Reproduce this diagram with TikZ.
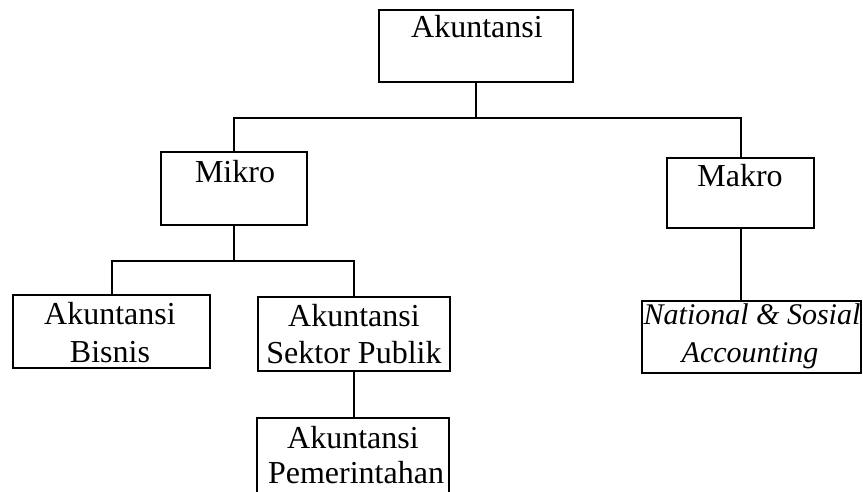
\documentclass[tikz,border=0pt]{standalone}
\usepackage{fontspec}
\setmainfont{Liberation Serif}
\begin{document}
\begin{tikzpicture}[x=1pt,y=-1pt,
  box/.style={draw, line width=2pt, rectangle, inner sep=0pt, outer sep=0pt},
  lbl/.style={anchor=base, inner sep=0pt, font=\fontsize{32}{38}\selectfont},
  ilbl/.style={anchor=base, inner sep=0pt, font=\fontsize{30}{36}\selectfont\itshape},
  conn/.style={line width=2pt}]
\useasboundingbox (0,0) rectangle (863,492);
\clip (0,0) rectangle (863,492);
% boxes
\node[box, minimum width=194pt, minimum height=72pt] (akt) at (476,46) {};
\node[box, minimum width=146pt, minimum height=73pt] (mikro) at (234,188.5) {};
\node[box, minimum width=147pt, minimum height=70pt] (makro) at (740.5,193) {};
\node[box, minimum width=197pt, minimum height=73pt] (bisnis) at (111.5,331.5) {};
\node[box, minimum width=192pt, minimum height=74pt] (sektor) at (354,334) {};
\node[box, minimum width=219pt, minimum height=72pt] (natl) at (751.5,337) {};
\node[box, minimum width=192pt, minimum height=82pt] (pem) at (353,459) {};
% texts
\node[lbl] (t-akt) at (477,38) {Akuntansi};
\node[lbl] (t-mikro) at (235,183) {Mikro};
\node[lbl] (t-makro) at (740,187) {Makro};
\node[lbl] (t-bis1) at (110,324) {Akuntansi};
\node[lbl] (t-bis2) at (110,362) {Bisnis};
\node[lbl] (t-sek1) at (354,326) {Akuntansi};
\node[lbl] (t-sek2) at (354,363) {Sektor Publik};
\node[ilbl] (t-nat1) at (752,324) {National \& Sosial};
\node[ilbl] (t-nat2) at (750,362) {Accounting};
\node[lbl] (t-pem1) at (353,448) {Akuntansi};
\node[lbl] (t-pem2) at (356,483) {Pemerintahan};
% connectors
\coordinate (j1) at (476,118);
\coordinate (j2) at (234,261);
\draw[conn] (akt.south) -- (j1);
\draw[conn] (mikro.north) |- (j1) -| (makro.north);
\draw[conn] (mikro.south) -- (j2);
\draw[conn] (bisnis.north) |- (j2) -| (sektor.north);
\draw[conn] (makro.south) -- (makro.south |- natl.north);
\draw[conn] (sektor.south) -- (sektor.south |- pem.north);
\end{tikzpicture}
\end{document}
